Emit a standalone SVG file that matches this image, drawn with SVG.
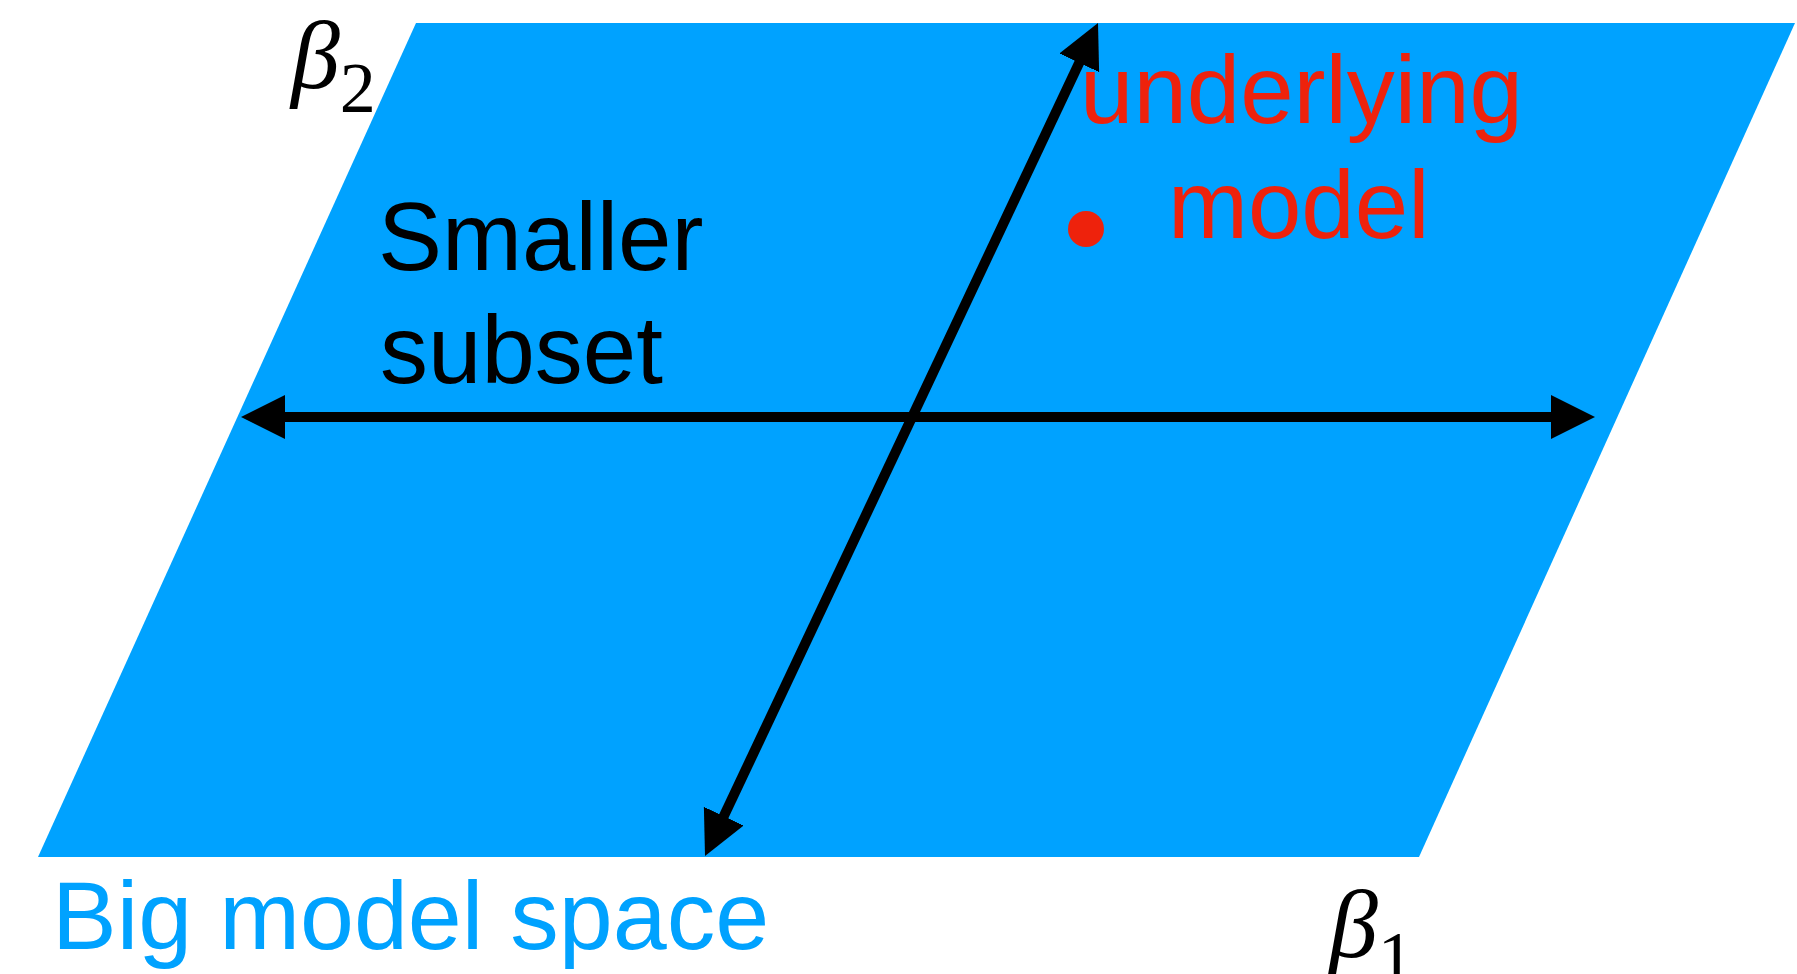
<svg xmlns="http://www.w3.org/2000/svg" width="1797" height="974" viewBox="0 0 1797 974">
<style>
.lbl{font-family:"Liberation Sans",Arial,sans-serif;font-size:96px}
.beta{font-family:"Liberation Serif","Times New Roman",serif;font-size:98px;fill:#000}
.sub{font-style:normal;font-size:72px}
.conn{stroke:#000;stroke-width:10;fill:none;marker-start:url(#ah);marker-end:url(#ah)}
</style>
<defs>
<marker id="ah" markerUnits="userSpaceOnUse" markerWidth="50" markerHeight="50" viewBox="0 -25 50 50" refX="14" refY="0" orient="auto-start-reverse">
<path d="M0,-22 L44,0 L0,22 Z" fill="#000"/>
</marker>
</defs>
<rect width="1797" height="974" fill="#fff"/>
<g id="space">
<polygon points="416,23 1795,23 1419,857 38,857" fill="#00A2FF"/>
<text class="lbl" x="52" y="949" fill="#00A2FF" style="font-size:97px">Big model space</text>
</g>
<g id="beta2">
<text class="beta" x="291" y="88" font-style="italic">β<tspan class="sub" dy="24">2</tspan></text>
</g>
<g id="beta1">
<text class="beta" x="1329" y="957" font-style="italic">β<tspan class="sub" dy="24">1</tspan></text>
</g>
<g id="subset">
<text class="lbl" x="378" y="270" fill="#000">Smaller</text>
<text class="lbl" x="380" y="383" fill="#000">subset</text>
</g>
<g id="underlying">
<circle cx="1086" cy="229" r="18" fill="#EE220C"/>
<text class="lbl" x="1080" y="123" fill="#EE220C">underlying</text>
<text class="lbl" x="1168" y="238" fill="#EE220C">model</text>
</g>
<g id="connectors">
<line class="conn" x1="271" y1="417" x2="1565" y2="417"/>
<line class="conn" x1="1085.2" y1="50.1" x2="717.8" y2="828.9"/>
</g>
</svg>
